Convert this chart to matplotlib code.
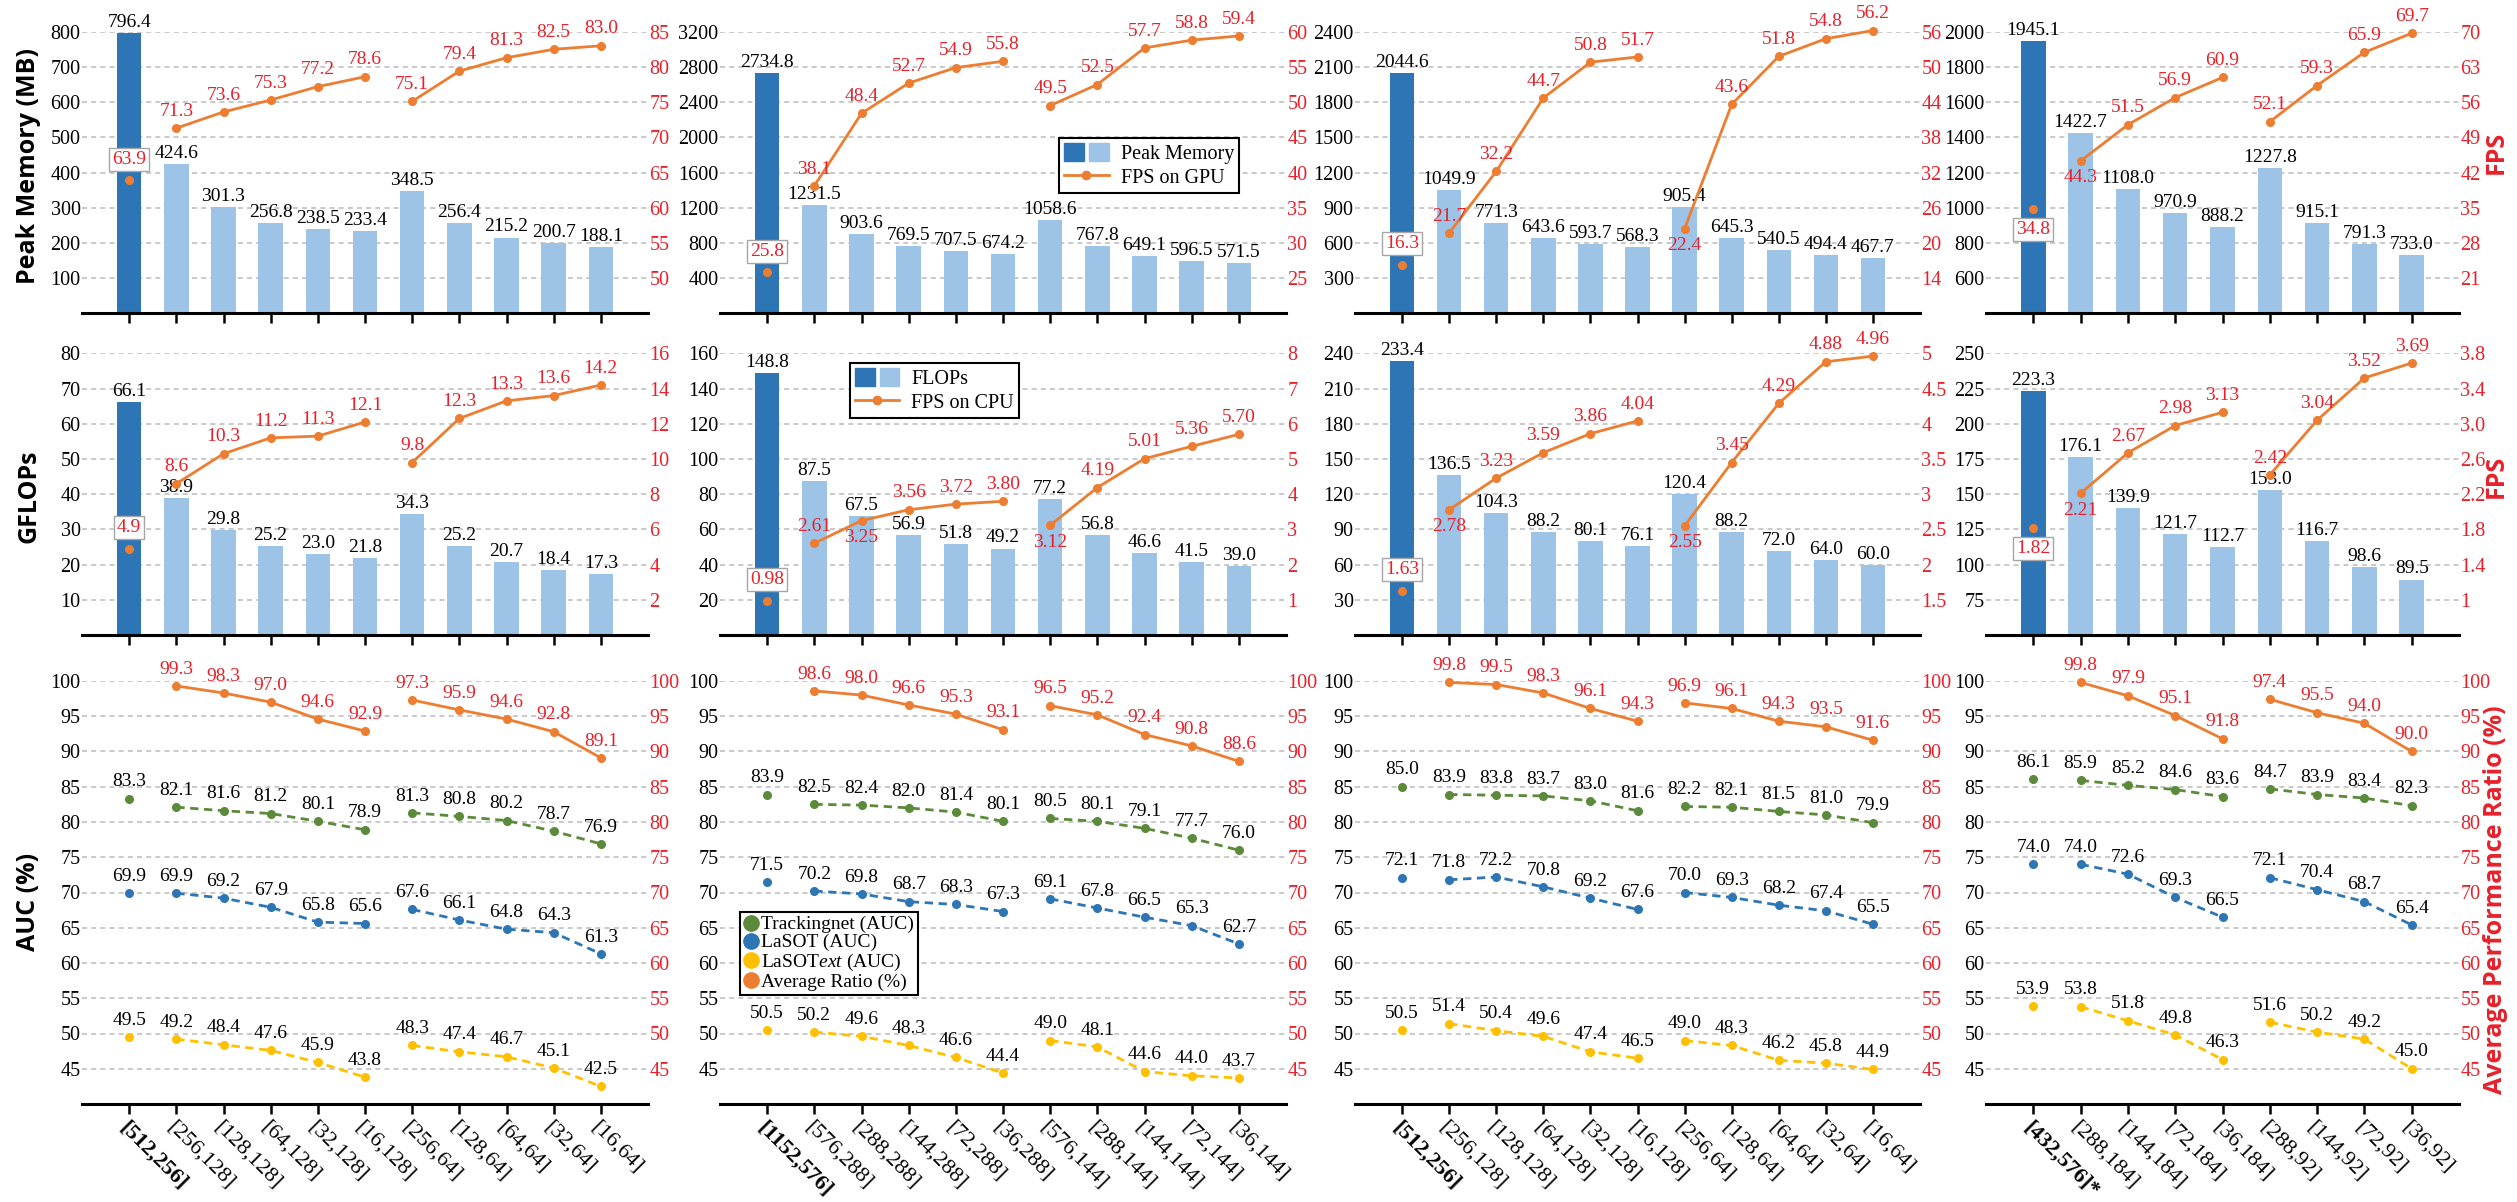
import matplotlib
matplotlib.use('Agg')
import matplotlib.pyplot as plt
from matplotlib.patches import Patch
from matplotlib.lines import Line2D
from matplotlib.legend_handler import HandlerTuple
import numpy as np

plt.rcParams['font.family'] = ['Liberation Serif', 'DejaVu Serif']
plt.rcParams['mathtext.fontset'] = 'custom'
plt.rcParams['mathtext.rm'] = 'Liberation Serif'
plt.rcParams['mathtext.it'] = 'Liberation Serif:italic'

# ---------------- data ----------------
cats1 = ['[512,256]', '[256,128]', '[128,128]', '[64,128]', '[32,128]', '[16,128]',
         '[256,64]', '[128,64]', '[64,64]', '[32,64]', '[16,64]']
cats2 = ['[1152,576]', '[576,288]', '[288,288]', '[144,288]', '[72,288]', '[36,288]',
         '[576,144]', '[288,144]', '[144,144]', '[72,144]', '[36,144]']
cats3 = ['[512,256]', '[256,128]', '[128,128]', '[64,128]', '[32,128]', '[16,128]',
         '[256,64]', '[128,64]', '[64,64]', '[32,64]', '[16,64]']
cats4 = ['[432,576]*', '[288,184]', '[144,184]', '[72,184]', '[36,184]',
         '[288,92]', '[144,92]', '[72,92]', '[36,92]']

mem1 = [796.4, 424.6, 301.3, 256.8, 238.5, 233.4, 348.5, 256.4, 215.2, 200.7, 188.1]
mem2 = [2734.8, 1231.5, 903.6, 769.5, 707.5, 674.2, 1058.6, 767.8, 649.1, 596.5, 571.5]
mem3 = [2044.6, 1049.9, 771.3, 643.6, 593.7, 568.3, 905.4, 645.3, 540.5, 494.4, 467.7]
mem4 = [1945.1, 1422.7, 1108.0, 970.9, 888.2, 1227.8, 915.1, 791.3, 733.0]

gpu1 = [63.9, 71.3, 73.6, 75.3, 77.2, 78.6, 75.1, 79.4, 81.3, 82.5, 83.0]
gpu2 = [25.8, 38.1, 48.4, 52.7, 54.9, 55.8, 49.5, 52.5, 57.7, 58.8, 59.4]
gpu3 = [16.3, 21.7, 32.2, 44.7, 50.8, 51.7, 22.4, 43.6, 51.8, 54.8, 56.2]
gpu4 = [34.8, 44.3, 51.5, 56.9, 60.9, 52.1, 59.3, 65.9, 69.7]

flops1 = [66.1, 38.9, 29.8, 25.2, 23.0, 21.8, 34.3, 25.2, 20.7, 18.4, 17.3]
flops2 = [148.8, 87.5, 67.5, 56.9, 51.8, 49.2, 77.2, 56.8, 46.6, 41.5, 39.0]
flops3 = [233.4, 136.5, 104.3, 88.2, 80.1, 76.1, 120.4, 88.2, 72.0, 64.0, 60.0]
flops4 = [223.3, 176.1, 139.9, 121.7, 112.7, 153.0, 116.7, 98.6, 89.5]

cpu1 = [4.9, 8.6, 10.3, 11.2, 11.3, 12.1, 9.8, 12.3, 13.3, 13.6, 14.2]
cpu2 = [0.98, 2.61, 3.25, 3.56, 3.72, 3.80, 3.12, 4.19, 5.01, 5.36, 5.70]
cpu3 = [1.63, 2.78, 3.23, 3.59, 3.86, 4.04, 2.55, 3.45, 4.29, 4.88, 4.96]
cpu4 = [1.82, 2.21, 2.67, 2.98, 3.13, 2.42, 3.04, 3.52, 3.69]

tn1 = [83.3, 82.1, 81.6, 81.2, 80.1, 78.9, 81.3, 80.8, 80.2, 78.7, 76.9]
tn2 = [83.9, 82.5, 82.4, 82.0, 81.4, 80.1, 80.5, 80.1, 79.1, 77.7, 76.0]
tn3 = [85.0, 83.9, 83.8, 83.7, 83.0, 81.6, 82.2, 82.1, 81.5, 81.0, 79.9]
tn4 = [86.1, 85.9, 85.2, 84.6, 83.6, 84.7, 83.9, 83.4, 82.3]

lasot1 = [69.9, 69.9, 69.2, 67.9, 65.8, 65.6, 67.6, 66.1, 64.8, 64.3, 61.3]
lasot2 = [71.5, 70.2, 69.8, 68.7, 68.3, 67.3, 69.1, 67.8, 66.5, 65.3, 62.7]
lasot3 = [72.1, 71.8, 72.2, 70.8, 69.2, 67.6, 70.0, 69.3, 68.2, 67.4, 65.5]
lasot4 = [74.0, 74.0, 72.6, 69.3, 66.5, 72.1, 70.4, 68.7, 65.4]

ext1 = [49.5, 49.2, 48.4, 47.6, 45.9, 43.8, 48.3, 47.4, 46.7, 45.1, 42.5]
ext2 = [50.5, 50.2, 49.6, 48.3, 46.6, 44.4, 49.0, 48.1, 44.6, 44.0, 43.7]
ext3 = [50.5, 51.4, 50.4, 49.6, 47.4, 46.5, 49.0, 48.3, 46.2, 45.8, 44.9]
ext4 = [53.9, 53.8, 51.8, 49.8, 46.3, 51.6, 50.2, 49.2, 45.0]

ratio1 = [np.nan, 99.3, 98.3, 97.0, 94.6, 92.9, 97.3, 95.9, 94.6, 92.8, 89.1]
ratio2 = [np.nan, 98.6, 98.0, 96.6, 95.3, 93.1, 96.5, 95.2, 92.4, 90.8, 88.6]
ratio3 = [np.nan, 99.8, 99.5, 98.3, 96.1, 94.3, 96.9, 96.1, 94.3, 93.5, 91.6]
ratio4 = [np.nan, 99.8, 97.9, 95.1, 91.8, 97.4, 95.5, 94.0, 90.0]

# axis ticks / tick labels
mem_lticks = [[100, 200, 300, 400, 500, 600, 700, 800],
              [400, 800, 1200, 1600, 2000, 2400, 2800, 3200],
              [300, 600, 900, 1200, 1500, 1800, 2100, 2400],
              [600, 800, 1000, 1200, 1400, 1600, 1800, 2000]]
mem_lims = [(0, 800), (0, 3200), (0, 2400), (400, 2000)]
gpu_rticks = [['50', '55', '60', '65', '70', '75', '80', '85'],
              ['25', '30', '35', '40', '45', '50', '55', '60'],
              ['14', '20', '26', '32', '38', '44', '50', '56'],
              ['21', '28', '35', '42', '49', '56', '63', '70']]
gpu_lims = [(45, 85), (20, 60), (8, 56), (14, 70)]

flops_lticks = [[10, 20, 30, 40, 50, 60, 70, 80],
                [20, 40, 60, 80, 100, 120, 140, 160],
                [30, 60, 90, 120, 150, 180, 210, 240],
                [75, 100, 125, 150, 175, 200, 225, 250]]
flops_lims = [(0, 80), (0, 160), (0, 240), (50, 250)]
cpu_rticks = [['2', '4', '6', '8', '10', '12', '14', '16'],
              ['1', '2', '3', '4', '5', '6', '7', '8'],
              ['1.5', '2', '2.5', '3', '3.5', '4', '4.5', '5'],
              ['1', '1.4', '1.8', '2.2', '2.6', '3.0', '3.4', '3.8']]
cpu_lims = [(0, 16), (0, 8), (1, 5), (0.6, 3.8)]

auc_ticks = [45, 50, 55, 60, 65, 70, 75, 80, 85, 90, 95, 100]
auc_lim = (40, 100)

cats = [cats1, cats2, cats3, cats4]
mems = [mem1, mem2, mem3, mem4]
gpus = [gpu1, gpu2, gpu3, gpu4]
flops = [flops1, flops2, flops3, flops4]
cpus = [cpu1, cpu2, cpu3, cpu4]
tns = [tn1, tn2, tn3, tn4]
lasots = [lasot1, lasot2, lasot3, lasot4]
exts = [ext1, ext2, ext3, ext4]
ratios = [ratio1, ratio2, ratio3, ratio4]

# ---------------- styles ----------------
DARK = '#2e75b6'
LIGHT = '#9dc3e6'
ORANGE = '#ed7d31'
GREEN = '#5a8a3a'
BLUE = '#2e75b6'
YELLOW = '#ffc000'
RED = '#e8202a'
GRID = '#c0c0c0'
SANS = ['Open Sans', 'DejaVu Sans']

W, H = 2517, 1202
fig = plt.figure(figsize=(W / 100, H / 100), dpi=100)

col_px = [(82, 648), (720, 1286), (1355, 1920), (1986, 2459)]
row_px = [(31.7, 313.3), (353.3, 635.2), (681, 1104)]


def rect(c, r):
    x0, x1 = col_px[c]
    y0, y1 = row_px[r]
    return [x0 / W, 1 - y1 / H, (x1 - x0) / W, (y1 - y0) / H]


def style(ax, ax2, n, lt, ll, rl, rlab, xlabels=None):
    ax.set_xlim(-1, n)
    ax.set_ylim(*ll)
    ax2.set_ylim(*rl)
    ax.set_yticks(lt)
    ax.set_yticklabels([f'{v:g}' for v in lt])
    rvals = [float(s) for s in rlab]
    ax2.set_yticks(rvals)
    ax2.set_yticklabels(rlab)
    for sp in ['top', 'left', 'right']:
        ax.spines[sp].set_visible(False)
        ax2.spines[sp].set_visible(False)
    ax2.spines['bottom'].set_visible(False)
    ax.spines['bottom'].set_linewidth(2.2)
    ax.tick_params(axis='y', length=0, labelsize=14.5, pad=1)
    ax2.tick_params(axis='y', length=0, labelsize=14.5, labelcolor=RED, pad=1)
    ax.set_xticks(range(n))
    ax.tick_params(axis='x', direction='out', length=7, width=1.8)
    if xlabels is None:
        ax.set_xticklabels([''] * n)
    else:
        ax.set_xticklabels(xlabels, rotation=-45, ha='left', va='top',
                           rotation_mode='anchor', fontsize=16)
        ax.get_xticklabels()[0].set_fontweight('bold')
        ax.tick_params(axis='x', pad=3)
    ax.yaxis.grid(True, color=GRID, linestyle=(0, (3, 2.5)), linewidth=1.2)
    ax.set_axisbelow(True)


def series(ax, vals, groups, color, ls, fmt, lcolor, boxed=False, below=(), ms=5.5, lw=2.0):
    v = np.array(vals, dtype=float)
    x = np.arange(len(v))
    if not np.isnan(v[0]):
        ax.plot([0], [v[0]], 'o', color=color, ms=ms, zorder=5, clip_on=False)
    for a, b in groups:
        ax.plot(x[a:b], v[a:b], color=color, ls=ls, lw=lw, marker='o', ms=ms,
                zorder=5, clip_on=False)
    for i, val in enumerate(v):
        if np.isnan(val):
            continue
        off = 9 if (boxed and i == 0) else 6
        dy = -off if i in below else off
        va = 'top' if i in below else 'bottom'
        kw = {}
        if boxed and i == 0:
            kw['bbox'] = dict(boxstyle='square,pad=0.15', fc='white', ec='#a6a6a6', lw=1.0)
        ax.annotate(fmt.format(val), (i, val), xytext=(0, dy), textcoords='offset points',
                    ha='center', va=va, color=lcolor, fontsize=14, zorder=6,
                    annotation_clip=False, **kw)


def bars(ax, vals):
    n = len(vals)
    ax.bar(range(n), vals, width=0.52, color=[DARK] + [LIGHT] * (n - 1), zorder=2)
    for i, v in enumerate(vals):
        ax.annotate(f'{v:.1f}', (i, v), xytext=(0, 1.5), textcoords='offset points',
                    ha='center', va='bottom', fontsize=14, annotation_clip=False)


groups_by_col = [[(1, 6), (6, 11)], [(1, 6), (6, 11)], [(1, 6), (6, 11)], [(1, 5), (5, 9)]]
below_gpu = [(), (), (6,), (0, 1)]
below_cpu = [(), (2, 6), (1, 6), (0, 1)]
cpu_fmt = ['{:.1f}', '{:.2f}', '{:.2f}', '{:.2f}']

for c in range(4):
    n = len(cats[c])
    g = groups_by_col[c]
    # row 1: peak memory / FPS GPU
    ax = fig.add_axes(rect(c, 0))
    ax2 = ax.twinx()
    bars(ax, mems[c])
    series(ax2, gpus[c], g, ORANGE, '-', '{:.1f}', RED, boxed=True, below=below_gpu[c])
    style(ax, ax2, n, mem_lticks[c], mem_lims[c], gpu_lims[c], gpu_rticks[c])
    if c == 1:
        h1 = (Patch(color=DARK), Patch(color=LIGHT))
        h2 = Line2D([], [], color=ORANGE, lw=2, marker='o', ms=6)
        leg = ax2.legend([h1, h2], ['Peak Memory', 'FPS on GPU'],
                         handler_map={tuple: HandlerTuple(ndivide=None, pad=0.25)},
                         loc='upper right', bbox_to_anchor=(0.935, 0.658), fontsize=14.5,
                         handlelength=2.2, handleheight=1.0, fancybox=False,
                         edgecolor='black', framealpha=1, borderpad=0.25,
                         labelspacing=0.15, handletextpad=0.6)
        leg.get_frame().set_linewidth(1.5)

    # row 2: GFLOPs / FPS CPU
    ax = fig.add_axes(rect(c, 1))
    ax2 = ax.twinx()
    bars(ax, flops[c])
    series(ax2, cpus[c], g, ORANGE, '-', cpu_fmt[c], RED, boxed=True, below=below_cpu[c])
    style(ax, ax2, n, flops_lticks[c], flops_lims[c], cpu_lims[c], cpu_rticks[c])
    if c == 1:
        h1 = (Patch(color=DARK), Patch(color=LIGHT))
        h2 = Line2D([], [], color=ORANGE, lw=2, marker='o', ms=6)
        leg = ax2.legend([h1, h2], ['FLOPs', 'FPS on CPU'],
                         handler_map={tuple: HandlerTuple(ndivide=None, pad=0.25)},
                         loc='upper left', bbox_to_anchor=(0.212, 1.0), fontsize=14.5,
                         handlelength=2.2, handleheight=1.0, fancybox=False,
                         edgecolor='black', framealpha=1, borderpad=0.25,
                         labelspacing=0.15, handletextpad=0.6)
        leg.get_frame().set_linewidth(1.5)

    # row 3: AUC / ratio
    ax = fig.add_axes(rect(c, 2))
    ax2 = ax.twinx()
    series(ax, tns[c], g, GREEN, (0, (3, 2)), '{:.1f}', 'black')
    series(ax, lasots[c], g, BLUE, (0, (3, 2)), '{:.1f}', 'black')
    series(ax, exts[c], g, YELLOW, (0, (3, 2)), '{:.1f}', 'black')
    series(ax2, ratios[c], g, ORANGE, '-', '{:.1f}', RED)
    style(ax, ax2, n, auc_ticks, auc_lim, auc_lim, [f'{v:g}' for v in auc_ticks],
          xlabels=cats[c])
    if c == 1:
        hs = [Line2D([], [], ls='none', marker='o', ms=11, color=col)
              for col in (GREEN, BLUE, YELLOW, ORANGE)]
        leg = ax2.legend(hs, ['Trackingnet (AUC)', 'LaSOT (AUC)', 'LaSOT$\\it{ext}$ (AUC)',
                              'Average Ratio (%)'],
                         loc='upper left', bbox_to_anchor=(0.025, 0.468), fontsize=14,
                         handlelength=0.7, handletextpad=0.2, fancybox=False,
                         edgecolor='black', framealpha=1, borderpad=0.2,
                         labelspacing=0.02, borderaxespad=0.3)
        leg.get_frame().set_linewidth(1.5)

# y-axis titles
fig.text(29 / W, 1 - 166 / H, 'Peak Memory (MB)', rotation=90, ha='center', va='center',
         fontsize=18, fontweight='bold', family=SANS)
fig.text(29 / W, 1 - 496 / H, 'GFLOPs', rotation=90, ha='center', va='center',
         fontsize=18, fontweight='bold', family=SANS)
fig.text(29 / W, 1 - 902 / H, 'AUC (%)', rotation=90, ha='center', va='center',
         fontsize=18, fontweight='bold', family=SANS)
fig.text(2496 / W, 1 - 152 / H, 'FPS', rotation=90, ha='center', va='center',
         fontsize=18, fontweight='bold', family=SANS, color=RED)
fig.text(2496 / W, 1 - 476 / H, 'FPS', rotation=90, ha='center', va='center',
         fontsize=18, fontweight='bold', family=SANS, color=RED)
fig.text(2496 / W, 1 - 900 / H, 'Average Performance Ratio (%)', rotation=90, ha='center',
         va='center', fontsize=18, fontweight='bold', family=SANS, color=RED)

fig.savefig('out.png', dpi=100)
